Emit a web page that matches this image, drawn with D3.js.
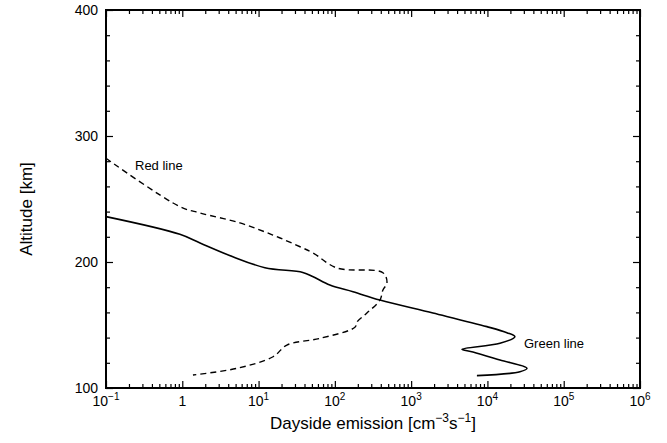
<!DOCTYPE html>
<html>
<head>
<meta charset="utf-8">
<script src="https://cdn.jsdelivr.net/npm/d3@7"></script>
<style>
body { margin: 0; background: #fff; }
svg { display: block; }
text { font-family: "Liberation Sans", Arial, sans-serif; fill: #000; }
</style>
</head>
<body>
<script>
var w = 667;
var h = 443;
var m = {top: 10, right: 27, bottom: 55, left: 106};

// green line (solid)
var greenAlt = [236, 222, 215.1, 204.2, 195.5, 191.7, 188.3, 181.7, 176.4, 169.8, 159.5, 148.7, 143.9, 140.7, 135.5, 130.7, 128.6, 122.2, 115.6, 112.9, 109.8];
var greenVal = [0.1, 0.93, 1.71, 4.6, 12.1, 38, 52, 86, 173, 390, 1930, 9840, 18000, 22900, 14600, 4630, 6460, 14600, 33000, 26700, 7280];

// red line (dashed)
var redAlt = [282.3, 243.9, 238.9, 231, 221.4, 212.1, 207.1, 195.2, 191.5, 183.3, 177.8, 169.8, 159.5, 152.6, 148.2, 139.4, 134.1, 124.8, 115.6, 110.3];
var redVal = [0.1, 0.93, 1.71, 5.7, 15.4, 35, 52, 107, 427, 482, 427, 390, 263, 196, 183, 64, 23.5, 15.5, 5.2, 1.38];

var xExps = [-1, 0, 1, 2, 3, 4, 5, 6];
var yTicks = [100, 200, 300, 400];

var svg = d3.select("body").append("svg")
    .attr("width", w)
    .attr("height", h);

var x = d3.scaleLog().domain([0.1, 1e6]).range([m.left, w - m.right]);
var y = d3.scaleLinear().domain([100, 400]).range([h - m.bottom, m.top]);

var majorX = xExps.map(function(e) { return Math.pow(10, e); });
var minorX = [];
xExps.slice(0, -1).forEach(function(e) {
    for (var k = 2; k <= 9; k++) minorX.push(k * Math.pow(10, e));
});
var minorY = d3.range(100, 401, 20).filter(function(v) { return v % 100 != 0; });

function ticks(axis, vals, size, tx, ty) {
    var g = svg.append("g")
        .attr("transform", "translate(" + tx + "," + ty + ")")
        .call(axis.tickValues(vals).tickSize(size).tickFormat(""));
    g.select(".domain").remove();
    g.selectAll("line").attr("stroke", "#000").attr("stroke-width", 1.2);
}
var yBot = y(100), yTop = y(400), xL = x(0.1), xR = x(1e6);
ticks(d3.axisBottom(x), majorX, -7, 0, yBot);
ticks(d3.axisBottom(x), minorX, -4, 0, yBot);
ticks(d3.axisTop(x), majorX, -7, 0, yTop);
ticks(d3.axisTop(x), minorX, -4, 0, yTop);
ticks(d3.axisLeft(y), yTicks, -7, xL, 0);
ticks(d3.axisLeft(y), minorY, -4, xL, 0);
ticks(d3.axisRight(y), yTicks, -7, xR, 0);
ticks(d3.axisRight(y), minorY, -4, xR, 0);

// frame
svg.append("rect")
    .attr("x", xL).attr("y", yTop)
    .attr("width", xR - xL).attr("height", yBot - yTop)
    .attr("fill", "none").attr("stroke", "#000").attr("stroke-width", 2);

// y tick labels
svg.selectAll(".ylab").data(yTicks).enter().append("text")
    .attr("x", xL - 8)
    .attr("y", function(d) { return y(d) + 5; })
    .attr("text-anchor", "end")
    .attr("font-size", 14)
    .text(function(d) { return d; });

// x tick labels
xExps.forEach(function(e) {
    var t = svg.append("text")
        .attr("x", x(Math.pow(10, e)))
        .attr("y", yBot + 18)
        .attr("text-anchor", "middle")
        .attr("font-size", 14);
    if (e == 0) { t.text("1"); return; }
    t.append("tspan").text("10");
    t.append("tspan").attr("dy", -6).attr("font-size", 10).text(e == -1 ? "\u22121" : e);
});

// curves
var lineFun = d3.line()
    .x(function(d) { return x(d[1]); })
    .y(function(d) { return y(d[0]); })
    .curve(d3.curveCatmullRom.alpha(0.5));

svg.append("path")
    .attr("d", lineFun(d3.zip(greenAlt, greenVal)))
    .attr("fill", "none")
    .attr("stroke", "#000")
    .attr("stroke-width", 1.6);

svg.append("path")
    .attr("d", lineFun(d3.zip(redAlt, redVal)))
    .attr("fill", "none")
    .attr("stroke", "#000")
    .attr("stroke-width", 1.4)
    .attr("stroke-dasharray", "6,4");

// curve labels
svg.append("text").attr("x", 135).attr("y", 170).attr("font-size", 13).text("Red line");
svg.append("text").attr("x", 524).attr("y", 348).attr("font-size", 13).text("Green line");

// axis titles
var xt = svg.append("text")
    .attr("x", (xL + xR) / 2)
    .attr("y", 429)
    .attr("text-anchor", "middle")
    .attr("font-size", 17);
xt.append("tspan").text("Dayside emission [cm");
xt.append("tspan").attr("dy", -7).attr("font-size", 12).text("\u22123");
xt.append("tspan").attr("dy", 7).text("s");
xt.append("tspan").attr("dy", -7).attr("font-size", 12).text("\u22121");
xt.append("tspan").attr("dy", 7).text("]");

svg.append("text")
    .attr("transform", "translate(32," + ((yTop + yBot) / 2 + 10) + ") rotate(-90)")
    .attr("text-anchor", "middle")
    .attr("font-size", 17)
    .text("Altitude [km]");
</script>
</body>
</html>
